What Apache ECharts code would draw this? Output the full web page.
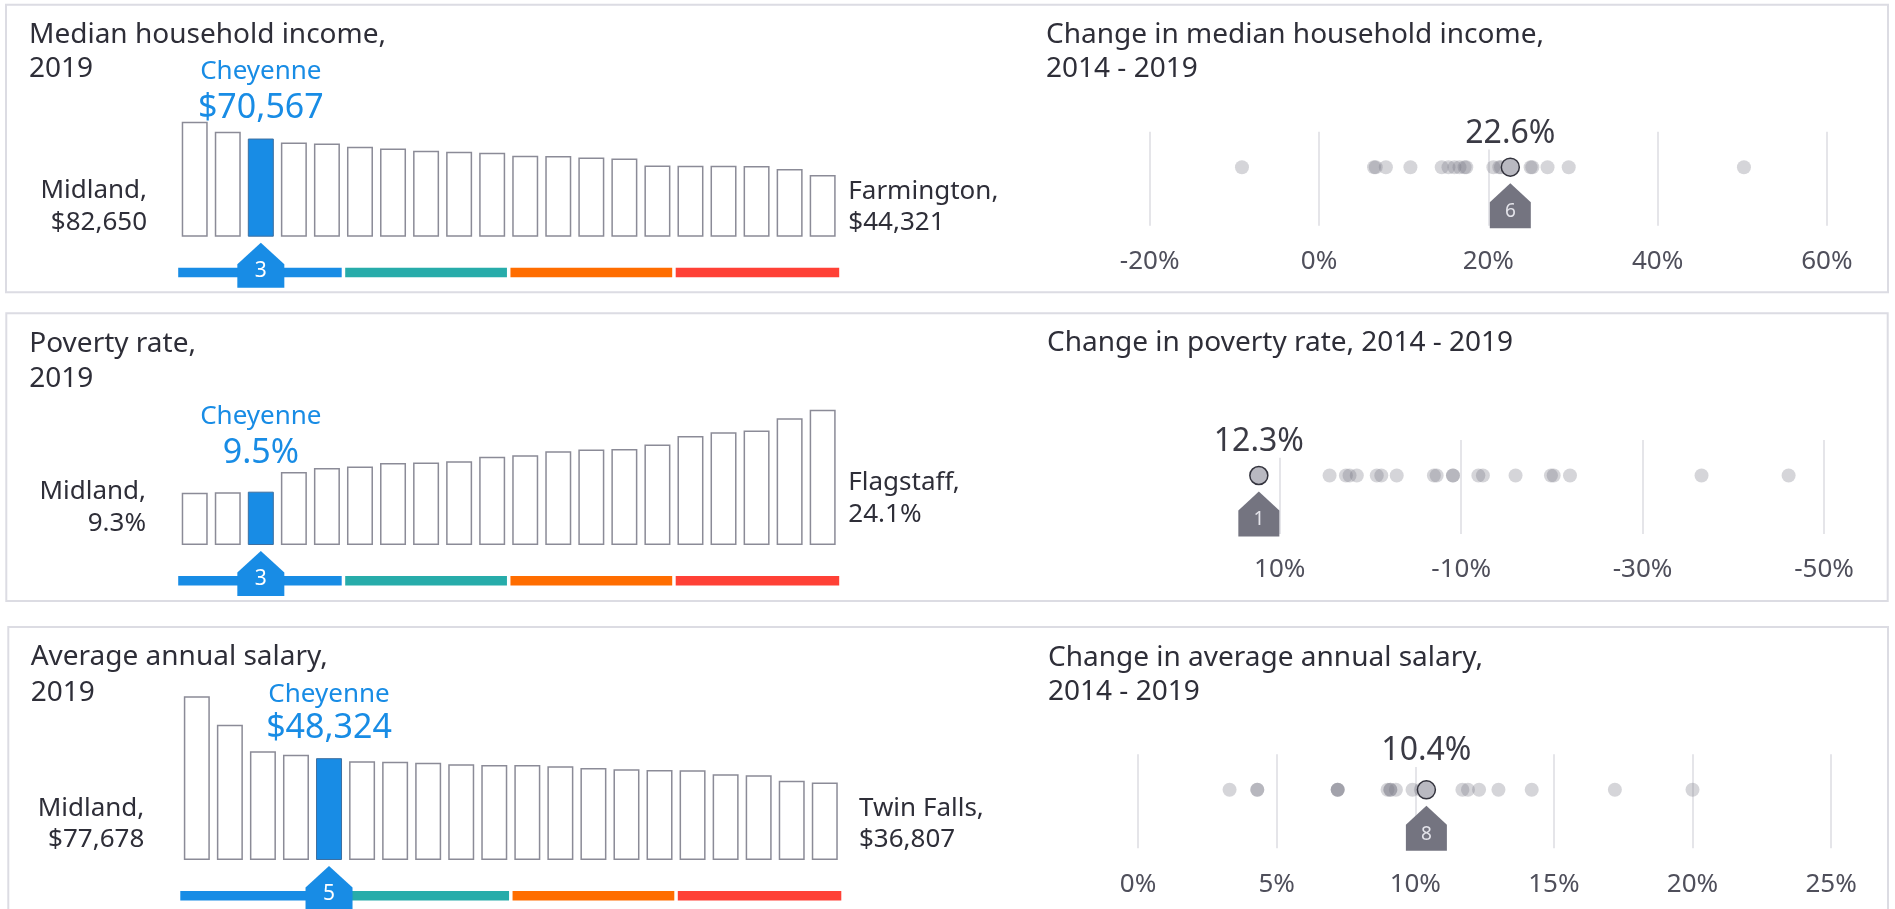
<!DOCTYPE html>
<html>
<head>
<meta charset="utf-8">
<script src="https://cdn.jsdelivr.net/npm/echarts@6/dist/echarts.min.js"></script>
<style>
html,body{margin:0;padding:0;background:#ffffff;}
#chart{width:1895px;height:909px;}
</style>
</head>
<body>
<div id="chart"></div>
<script>
// ---------------- DATA ----------------
const ranks = ['1','2','3','4','5','6','7','8','9','10','11','12','13','14','15','16','17','18','19','20'];

const incomeValues  = [82650, 75440, 70567, 67780, 67060, 64670, 63470, 61790, 61070, 60350,
                       58200, 57960, 57000, 56280, 51250, 51010, 51010, 50770, 48620, 44321];
const povertyValues = [9.3, 9.4, 9.5, 13.0, 13.7, 14.0, 14.6, 14.7, 14.9, 15.7,
                       16.0, 16.7, 17.0, 17.1, 17.9, 19.4, 20.1, 20.4, 22.6, 24.1];
const salaryValues  = [77678, 64230, 51570, 49990, 48324, 46830, 46670, 46190, 45400, 45090,
                       45050, 44450, 43660, 43030, 42710, 42560, 40660, 40180, 37650, 36807];

const highlightCity = 'Cheyenne';
const highlightIndex = [2, 2, 4];
const firstCities = ['Midland', 'Midland', 'Midland'];
const lastCities  = ['Farmington', 'Flagstaff', 'Twin Falls'];

const incomeChangeOthers  = [-9.1, 6.5, 6.7, 7.9, 10.8, 14.5, 15.3, 16.0, 16.6, 17.2, 17.4,
                             20.6, 21.3, 21.5, 25.0, 25.2, 27.0, 29.5, 50.2];
const povertyChangeOthers = [4.5, 2.7, 2.3, 1.5, -0.7, -1.2, -2.9, -7.0, -7.3, -9.1, -9.1,
                             -11.9, -12.4, -16.0, -19.9, -20.2, -22.0, -36.5, -46.1];
const salaryChangeOthers  = [3.3, 4.3, 4.3, 7.2, 7.2, 7.2, 9.0, 9.1, 9.1, 9.3, 9.9, 10.2,
                             11.7, 11.9, 12.3, 13.0, 14.2, 17.2, 20.0];
const cheyenneChange = [22.6, 12.3, 10.4];
const changeRanks = [6, 1, 8];

const incomeChangeTicks  = [-20, 0, 20, 40, 60];
const povertyChangeTicks = [10, -10, -30, -50];
const salaryChangeTicks  = [0, 5, 10, 15, 20, 25];

const levelTitles  = [['Median household income,', '2019'], ['Poverty rate,', '2019'], ['Average annual salary,', '2019']];
const changeTitles = [['Change in median household income,', '2014 - 2019'],
                      ['Change in poverty rate, 2014 - 2019'],
                      ['Change in average annual salary,', '2014 - 2019']];
const quartileBands = [[0, 4, 0], [5, 9, 1], [10, 14, 2], [15, 19, 3]];

// ---------------- STYLE / LAYOUT ----------------
const FONT = "'Noto Sans', 'Open Sans', sans-serif";
const BLUE = '#188ce5';
const DARK = '#2e2e38';
const bandColors = ['#188ce5', '#27acaa', '#ff6d00', '#ff4136'];

const money = v => '$' + v.toLocaleString('en-US');
const pct = v => v.toFixed(1) + '%';

const panels = [
  { values: incomeValues, fmt: money, others: incomeChangeOthers, ticks: incomeChangeTicks },
  { values: povertyValues, fmt: pct, others: povertyChangeOthers, ticks: povertyChangeTicks },
  { values: salaryValues, fmt: money, others: salaryChangeOthers, ticks: salaryChangeTicks }
];

const layout = [
  { box: [6, 4.7, 1882, 287.6],
    titleX: 29, titleB: [43.3, 77.3], cTitleX: 1046, cTitleB: [43.3, 77.3],
    bar: { left: 178.2, top: 97.6, width: 661, height: 139.1 }, yMax: 100000, nameLH: 37, valDist: 12.5,
    firstX: 147, firstB: [198.3, 230], lastX: 848.3, lastB: [199.3, 230],
    dot: { left: 1149.7, top: 131.7, width: 677.2, height: 94 }, xMin: -20, xMax: 60, inverse: false, hlDist: 8 },
  { box: [6.3, 313.3, 1881.4, 287.7],
    titleX: 29.3, titleB: [351.7, 387.3], cTitleX: 1047, cTitleB: [350.7],
    bar: { left: 178.2, top: 376.6, width: 661, height: 168.4 }, yMax: 30, nameLH: 37, valDist: 20.7,
    firstX: 146, firstB: [499.3, 531], lastX: 848.3, lastB: [490, 521.7],
    dot: { left: 1279.7, top: 440, width: 544.3, height: 94 }, xMin: -50, xMax: 10, inverse: true, hlDist: 8 },
  { box: [8.3, 627, 1879.7, 300],
    titleX: 30.7, titleB: [665, 700.7], cTitleX: 1048, cTitleB: [666, 700],
    bar: { left: 180.3, top: 691.4, width: 661, height: 168.6 }, yMax: 80000, nameLH: 32, valDist: 11.6,
    firstX: 144.3, firstB: [815.7, 847.3], lastX: 859, lastB: [816, 847],
    dot: { left: 1138.1, top: 754.3, width: 693, height: 94 }, xMin: 0, xMax: 25, inverse: false, hlDist: 13 }
];

// ---------------- BUILD ----------------
const grid = [], xAxis = [], yAxis = [], series = [], graphic = [];

function textEl(str, x, baseline, size, color, align) {
  return {
    type: 'text', x: x, y: baseline - 0.285 * size, silent: true,
    style: { text: str, fontSize: size, fontFamily: FONT, fill: color,
             align: align, textAlign: align, verticalAlign: 'middle', textVerticalAlign: 'middle' }
  };
}

function stripItem(params, api) {
  const s = api.value(0), e = api.value(1), c = api.value(2);
  const p0 = api.coord([s, 0]);
  const p1 = api.coord([e, 0]);
  const bw = api.size([1, 0])[0];
  const gap = 1.75;
  const x0 = p0[0] - bw / 2 + (s === 0 ? 0 : gap);
  const x1 = p1[0] + bw / 2 - (e === ranks.length - 1 ? 0 : gap);
  return { type: 'rect', shape: { x: x0, y: p0[1] + 31, width: x1 - x0, height: 9.5 },
           style: { fill: bandColors[c] } };
}

panels.forEach((p, k) => {
  const L = layout[k];
  const hi = highlightIndex[k];
  const b = 2 * k;      // level bar grid index
  const g = 2 * k + 1;  // change dot grid index

  // level bar grid
  grid.push({ left: L.bar.left, top: L.bar.top, width: L.bar.width, height: L.bar.height });
  xAxis.push({ type: 'category', gridIndex: b, data: ranks, show: false });
  yAxis.push({ type: 'value', gridIndex: b, min: 0, max: L.yMax, show: false });

  // change dot grid
  grid.push({ left: L.dot.left, top: L.dot.top, width: L.dot.width, height: L.dot.height });
  xAxis.push({
    type: 'value', gridIndex: g, min: L.xMin, max: L.xMax, inverse: L.inverse,
    axisLine: { show: false },
    axisTick: { show: false, customValues: p.ticks },
    axisLabel: { customValues: p.ticks, formatter: v => v + '%', fontSize: 26, lineHeight: 26, margin: 23,
                 color: '#4f4f5b', fontFamily: FONT, showMinLabel: true, showMaxLabel: true },
    splitLine: { show: true, lineStyle: { color: '#dcdce2', width: 1.5 } }
  });
  yAxis.push({ type: 'value', gridIndex: g, min: -58.5, max: 35.5, show: false });

  series.push({
    type: 'bar', xAxisIndex: b, yAxisIndex: b, barWidth: 26, silent: true,
    itemStyle: { color: '#ffffff', borderColor: '#8b8b97', borderWidth: 1.5 },
    data: p.values.map((v, i) => i === hi ? {
      value: v,
      itemStyle: { color: BLUE, borderColor: '#3f6f9f', borderWidth: 1 },
      label: {
        show: true, position: 'top', distance: L.valDist,
        formatter: '{n|' + highlightCity + '}\n{v|' + p.fmt(v) + '}',
        rich: {
          n: { fontSize: 26, lineHeight: L.nameLH, color: BLUE, fontFamily: FONT },
          v: { fontSize: 34, lineHeight: 36, color: BLUE, fontFamily: FONT }
        }
      }
    } : v)
  });

  series.push({
    type: 'custom', xAxisIndex: b, yAxisIndex: b, clip: false, silent: true, z: 2,
    data: quartileBands, renderItem: stripItem
  });

  series.push({
    type: 'scatter', xAxisIndex: b, yAxisIndex: b, clip: false, silent: true, z: 5,
    symbol: 'path://M23.5,0L47,21.5L47,45L0,45L0,21.5Z', symbolSize: [47, 45], symbolOffset: [0, 28.5],
    itemStyle: { color: BLUE, opacity: 1 },
    label: { show: true, position: 'inside', offset: [0, 6], formatter: String(hi + 1),
             color: '#ffffff', fontSize: 21, fontFamily: FONT },
    data: [[hi, 0]]
  });

  series.push({
    type: 'scatter', xAxisIndex: g, yAxisIndex: g, clip: false, silent: true, z: 3,
    symbolSize: 14, itemStyle: { color: 'rgba(116,116,128,0.30)', opacity: 1 },
    data: p.others.map(v => [v, 0])
  });
  series.push({
    type: 'scatter', xAxisIndex: g, yAxisIndex: g, clip: false, silent: true, z: 4,
    symbolSize: 18, itemStyle: { color: '#b9b9c1', borderColor: '#33333d', borderWidth: 1.5, opacity: 1 },
    label: { show: true, position: 'top', distance: L.hlDist, formatter: pct(cheyenneChange[k]),
             fontSize: 32, lineHeight: 32, color: '#3a3a44', fontFamily: FONT,
             backgroundColor: '#ffffff', padding: [0, 2] },
    data: [[cheyenneChange[k], 0]]
  });
  series.push({
    type: 'scatter', xAxisIndex: g, yAxisIndex: g, clip: false, silent: true, z: 4,
    symbol: 'path://M20.5,0L41,19L41,45L0,45L0,19Z', symbolSize: [41, 45], symbolOffset: [0, 38.5],
    itemStyle: { color: '#747480', opacity: 1 },
    label: { show: true, position: 'inside', offset: [0, 6], formatter: String(changeRanks[k]),
             color: '#e4e4ea', fontSize: 19, fontFamily: FONT },
    data: [[cheyenneChange[k], 0]]
  });

  // frame and texts
  graphic.push({ type: 'rect', silent: true, z: -1,
    shape: { x: L.box[0], y: L.box[1], width: L.box[2], height: L.box[3] },
    style: { fill: 'none', stroke: '#dcdce3', lineWidth: 2 } });
  levelTitles[k].forEach((t, i) => graphic.push(textEl(t, L.titleX, L.titleB[i], 28, DARK, 'left')));
  changeTitles[k].forEach((t, i) => graphic.push(textEl(t, L.cTitleX, L.cTitleB[i], 28, DARK, 'left')));
  graphic.push(textEl(firstCities[k] + ',', L.firstX, L.firstB[0], 26, DARK, 'right'));
  graphic.push(textEl(p.fmt(p.values[0]), L.firstX, L.firstB[1], 26, DARK, 'right'));
  graphic.push(textEl(lastCities[k] + ',', L.lastX, L.lastB[0], 26, DARK, 'left'));
  graphic.push(textEl(p.fmt(p.values[p.values.length - 1]), L.lastX, L.lastB[1], 26, DARK, 'left'));
});

const chart = echarts.init(document.getElementById('chart'), null, { renderer: 'canvas' });
chart.setOption({
  animation: false,
  backgroundColor: '#ffffff',
  textStyle: { fontFamily: FONT },
  grid: grid, xAxis: xAxis, yAxis: yAxis, series: series, graphic: graphic
});
</script>
</body>
</html>
